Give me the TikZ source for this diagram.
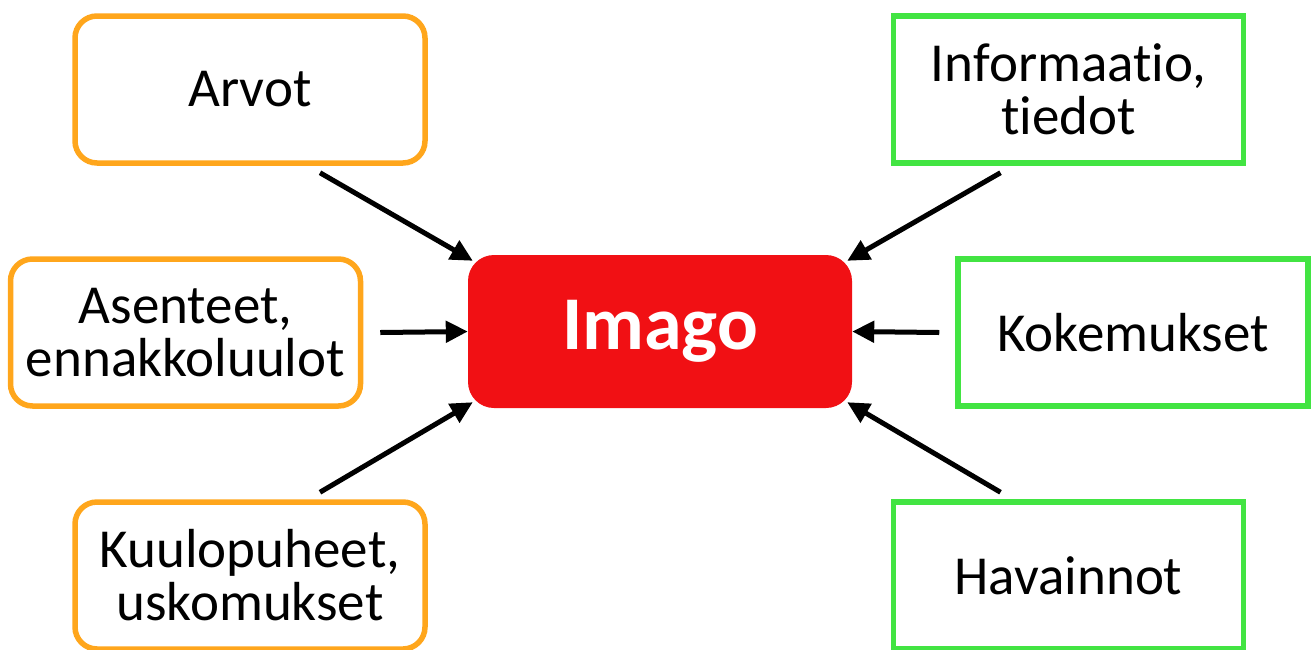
\documentclass[tikz,border=0pt]{standalone}
\usepackage{fontspec}
\setmainfont{Carlito}[Ligatures=NoCommon]
\usetikzlibrary{arrows.meta}
\definecolor{orangeline}{RGB}{255,166,28}
\definecolor{greenline}{RGB}{66,228,66}
\definecolor{imagored}{RGB}{241,16,20}
\tikzset{
  box/.style={fill=white, line width=5.5pt, minimum width=350pt, minimum height=147pt,
    align=center, inner sep=0pt, font=\fontsize{55}{53}\selectfont},
  orangebox/.style={box, draw=orangeline, rounded corners=22pt},
  greenbox/.style={box, draw=greenline},
  imagobox/.style={fill=imagored, rounded corners=26pt, minimum width=384pt, minimum height=153pt,
    text=white, font=\fontsize{76}{80}\bfseries\selectfont},
  arr/.style={line width=5pt, -{Triangle[length=22pt,width=21pt]}}
}
\begin{document}
\begin{tikzpicture}[x=1pt,y=-1pt]
    \useasboundingbox (0,0) rectangle (1314,649);
    % center
    \node[imagobox] (imago) at (660,331.5) {Imago};
    % left side
    \node[orangebox] (arvot) at (250,89.5) {Arvot};
    \node[orangebox] (asenteet) at (185.5,332.5) {Asenteet,\\ennakkoluulot};
    \node[orangebox] (kuulopuheet) at (250,575.5) {Kuulopuheet,\\uskomukset};
    % right side
    \node[greenbox] (informaatio) at (1068.5,89.5) {Informaatio,\\tiedot};
    \node[greenbox] (kokemukset) at (1133,332.5) {Kokemukset};
    \node[greenbox] (havainnot) at (1068.5,575.5) {Havainnot};
    % arrows into the centre
    \draw[arr] ([shift={(70,7)}]arvot.south) -- ([shift={(5,6)}]imago.north west);
    \draw[arr] ([xshift=17pt]asenteet.east) -- (imago.west);
    \draw[arr] ([shift={(70,-7)}]kuulopuheet.north) -- ([shift={(5,-6)}]imago.south west);
    \draw[arr] ([shift={(-68,7)}]informaatio.south) -- ([shift={(-5,6)}]imago.north east);
    \draw[arr] ([xshift=-16pt]kokemukset.west) -- (imago.east);
    \draw[arr] ([shift={(-68,-7)}]havainnot.north) -- ([shift={(-5,-6)}]imago.south east);
\end{tikzpicture}
\end{document}
